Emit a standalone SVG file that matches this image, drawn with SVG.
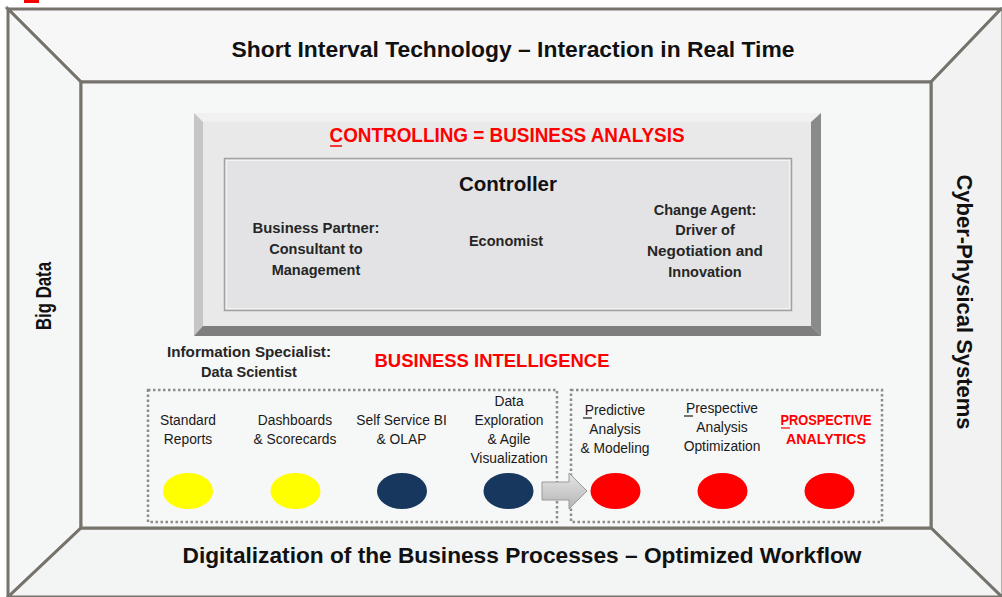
<svg xmlns="http://www.w3.org/2000/svg" width="1002" height="597" viewBox="0 0 1002 597">
<defs>
<style>
.frame{stroke:#75736b;stroke-width:3;stroke-linejoin:miter}
.h{font-family:"Liberation Sans",Arial,sans-serif;font-weight:bold;fill:#111;text-anchor:middle}
.b{font-family:"Liberation Sans",Arial,sans-serif;font-weight:bold;fill:#262626;text-anchor:middle;font-size:14.5px}
.r{font-family:"Liberation Sans",Arial,sans-serif;fill:#1a1a1a;text-anchor:middle;font-size:13.8px}
.red{fill:#ff0000}
.dot{fill:none;stroke:#8c8c8c;stroke-width:2.5;stroke-dasharray:2.5 2.5}
</style>
<linearGradient id="arrowG" x1="0" y1="0" x2="0" y2="1">
<stop offset="0" stop-color="#e6e6e6"/>
<stop offset="1" stop-color="#b4b4b4"/>
</linearGradient>
</defs>
<rect width="1002" height="597" fill="#ffffff"/>
<rect x="24" y="0" width="15" height="3" fill="#ff0000"/>

<g id="frame">
<polygon class="frame" points="8,9 1001,9 931,82 81,82" fill="#f7f7f7"/>
<polygon class="frame" points="8,9 81,82 81,528 8,597" fill="#f5f6f6"/>
<polygon class="frame" points="1001,9 1003,9 1003,597 1002,597 931,528 931,82" fill="#f2f2f2"/>
<polygon class="frame" points="8,597 81,528 931,528 1002,597" fill="#f3f4f4"/>
<rect class="frame" x="81" y="82" width="850" height="446" fill="#f6f7f7"/>
</g>

<g id="top-label"><text class="h" x="513" y="57" font-size="22.5" textLength="563" lengthAdjust="spacingAndGlyphs">Short Interval Technology – Interaction in Real Time</text></g>
<g id="bottom-label"><text class="h" x="522" y="563" font-size="22.5" textLength="679" lengthAdjust="spacingAndGlyphs">Digitalization of the Business Processes – Optimized Workflow</text></g>
<g id="left-label"><text class="h" transform="translate(51,296) rotate(-90)" font-size="21.5" textLength="68" lengthAdjust="spacingAndGlyphs">Big Data</text></g>
<g id="right-label"><text class="h" transform="translate(957,302) rotate(90)" font-size="21.5" textLength="255" lengthAdjust="spacingAndGlyphs">Cyber-Physical Systems</text></g>

<g id="controlling">
<rect x="194" y="113" width="627" height="223" fill="#e9e9ea"/>
<polygon points="194,113 821,113 811,122 203,122" fill="#f1f1f1"/>
<polygon points="194,113 203,122 203,326 194,336" fill="#c6c6c6"/>
<polygon points="821,113 821,336 811,326 811,122" fill="#8a8a8a"/>
<polygon points="194,336 203,326 811,326 821,336" fill="#7e7e7e"/>
<text class="h red" x="507" y="142" font-size="20" textLength="355" lengthAdjust="spacingAndGlyphs">CONTROLLING = BUSINESS ANALYSIS</text>
<line x1="330" y1="146" x2="342" y2="146" stroke="#ff0000" stroke-width="1.5"/>
</g>

<g id="controller">
<rect x="224.5" y="158.5" width="567" height="152" fill="#e3e3e5" stroke="#a2a2a2" stroke-width="1.5"/>
<rect x="226.5" y="160.5" width="563" height="148" fill="none" stroke="#f3f3f3" stroke-width="1"/>
<text class="h" x="508" y="191" font-size="21" textLength="98" lengthAdjust="spacingAndGlyphs">Controller</text>
<text class="b" x="316" y="233" textLength="127" lengthAdjust="spacingAndGlyphs">Business Partner:</text>
<text class="b" x="316" y="254">Consultant to</text>
<text class="b" x="316" y="275">Management</text>
<text class="b" x="506" y="246">Economist</text>
<text class="b" x="705" y="215">Change Agent:</text>
<text class="b" x="705" y="235">Driver of</text>
<text class="b" x="705" y="256" textLength="116" lengthAdjust="spacingAndGlyphs">Negotiation and</text>
<text class="b" x="705" y="277">Innovation</text>
</g>

<g id="info-specialist">
<text class="b" x="249" y="357" fill="#111" textLength="164" lengthAdjust="spacingAndGlyphs">Information Specialist:</text>
<text class="b" x="249" y="377" fill="#111">Data Scientist</text>
</g>
<g id="bi-title"><text class="h red" x="492" y="367" font-size="19" textLength="235" lengthAdjust="spacingAndGlyphs">BUSINESS INTELLIGENCE</text></g>

<g id="bi-box"><rect class="dot" x="148" y="390" width="409" height="132"/></g>
<g id="analytics-box"><rect class="dot" x="571" y="390" width="311" height="132"/></g>

<g id="standard-reports">
<text class="r" x="188" y="425">Standard</text>
<text class="r" x="188" y="444">Reports</text>
<ellipse cx="188" cy="491" rx="25" ry="18" fill="#ffff00"/>
</g>
<g id="dashboards">
<text class="r" x="295" y="425">Dashboards</text>
<text class="r" x="295" y="444">&amp; Scorecards</text>
<ellipse cx="295.5" cy="491" rx="25" ry="18" fill="#ffff00"/>
</g>
<g id="self-service">
<text class="r" x="401.5" y="425">Self Service BI</text>
<text class="r" x="401.5" y="444">&amp; OLAP</text>
<ellipse cx="402" cy="491" rx="25" ry="18" fill="#17375e"/>
</g>
<g id="data-exploration">
<text class="r" x="509" y="406">Data</text>
<text class="r" x="509" y="425">Exploration</text>
<text class="r" x="509" y="444">&amp; Agile</text>
<text class="r" x="509" y="463">Visualization</text>
<ellipse cx="508.5" cy="491" rx="25" ry="18" fill="#17375e"/>
</g>
<g id="predictive">
<text class="r" x="615" y="415">Predictive</text>
<line x1="583" y1="418" x2="592" y2="418" stroke="#1a1a1a" stroke-width="1.2"/>
<text class="r" x="615" y="434">Analysis</text>
<text class="r" x="615" y="453">&amp; Modeling</text>
<ellipse cx="615.5" cy="491" rx="25" ry="18" fill="#ff0000"/>
</g>
<g id="prespective">
<text class="r" x="722" y="413">Prespective</text>
<line x1="684" y1="416" x2="693" y2="416" stroke="#1a1a1a" stroke-width="1.2"/>
<text class="r" x="722" y="432">Analysis</text>
<text class="r" x="722" y="451">Optimization</text>
<ellipse cx="722.5" cy="491" rx="25" ry="18" fill="#ff0000"/>
</g>
<g id="prospective">
<text class="r red" x="826" y="425" font-weight="bold" font-size="13.5" textLength="91" lengthAdjust="spacingAndGlyphs" style="fill:#ff0000">PROSPECTIVE</text>
<line x1="781" y1="428" x2="790" y2="428" stroke="#ff0000" stroke-width="1.2"/>
<text class="r red" x="826" y="444" font-weight="bold" font-size="13.5" textLength="80" lengthAdjust="spacingAndGlyphs" style="fill:#ff0000">ANALYTICS</text>
<ellipse cx="829.5" cy="491" rx="25" ry="18" fill="#ff0000"/>
</g>

<g id="connectors">
<polygon points="542,482 569,482 569,473 587,491 569,509 569,500 542,500" fill="url(#arrowG)" stroke="#9a9a9a" stroke-width="1"/>
</g>
</svg>
